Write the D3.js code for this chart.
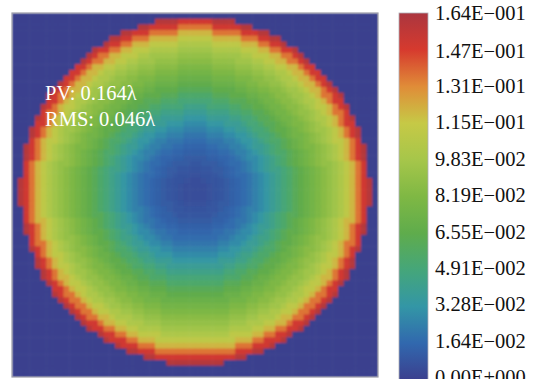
<!DOCTYPE html>
<html><head><meta charset="utf-8">
<script src="https://cdn.jsdelivr.net/npm/d3@7"></script>
<style>html,body{margin:0;padding:0;background:#fff;overflow:hidden}</style>
</head><body>
<svg id="c" width="548" height="379"></svg>
<script>
// Radial profile of the surface error (waves), one value per ring of grid cells, centre outwards
const ringValues = [0.006,0.006,0.007,0.008,0.009,0.011,0.013,0.015,0.018,0.021,0.025,0.029,0.034,0.039,0.044,0.050,0.055,0.061,0.066,0.071,0.076,0.081,0.086,0.091,0.096,0.102,0.110,0.120,0.136,0.150,0.160];
// Colour bar tick values and labels
const tickValues = [0,0.0164,0.0328,0.0491,0.0655,0.0819,0.0983,0.115,0.131,0.147,0.164];
const tickLabels = ["0.00E+000","1.64E\u2212002","3.28E\u2212002","4.91E\u2212002","6.55E\u2212002","8.19E\u2212002","9.83E\u2212002","1.15E\u2212001","1.31E\u2212001","1.47E\u2212001","1.64E\u2212001"];
// Colour map stops (fraction of max value)
const stopFractions = [0,0.1,0.2,0.3,0.4,0.5,0.6,0.7,0.8,0.9,1.0];
const stopColors = ["#3b3f8e","#3168ae","#3396a6","#45a67a","#5fac4c","#7fb844","#a6c64a","#c6c946","#e08c38","#d63a2e","#ab363f"];
const annotations = ["PV: 0.164\u03bb","RMS: 0.046\u03bb"];

const N = 64, vmax = 0.164;
const svg = d3.select("#c");
const plot = {x0:12, x1:378, y0:13, y1:377};
const xs = d3.scaleBand().domain(d3.range(N)).range([plot.x0, plot.x1]).padding(0);
const ys = d3.scaleBand().domain(d3.range(N)).range([plot.y0, plot.y1]).padding(0);
const color = d3.scaleLinear().domain(stopFractions.map(f => f*vmax)).range(stopColors).clamp(true);

const defs = svg.append("defs");
defs.append("clipPath").attr("id","pc").append("rect")
  .attr("x", plot.x0).attr("y", plot.y0).attr("width", plot.x1-plot.x0).attr("height", plot.y1-plot.y0);
defs.append("filter").attr("id","soft").attr("x",-0.02).attr("y",-0.02).attr("width",1.04).attr("height",1.04)
  .append("feGaussianBlur").attr("stdDeviation",0.9);

// centre of the aperture in cell units and its radius
const cc = 32.0, cr = 31.3, R = ringValues.length - 0.4;
const cells = [];
for (let r = 0; r < N; r++) for (let c = 0; c < N; c++) {
  const d = Math.hypot(c + 0.5 - cc, r + 0.5 - cr);
  const v = d < R ? ringValues[Math.min(ringValues.length-1, Math.floor(d))] : 0;
  cells.push({r, c, v});
}
svg.append("g").attr("clip-path","url(#pc)").append("g").attr("filter","url(#soft)")
  .selectAll("rect").data(cells).join("rect")
  .attr("x", d => xs(d.c)).attr("y", d => ys(d.r))
  .attr("width", xs.bandwidth()+0.6).attr("height", ys.bandwidth()+0.6)
  .attr("fill", d => color(d.v));
svg.append("rect").attr("x", plot.x0).attr("y", plot.y0)
  .attr("width", plot.x1-plot.x0).attr("height", plot.y1-plot.y0)
  .attr("fill","none").attr("stroke","#9a9aa6").attr("stroke-width",1.2);

// annotations
svg.append("g").selectAll("text").data(annotations).join("text")
  .attr("x", 45).attr("y", (d,i) => 100 + i*25.5)
  .attr("fill","#fff").attr("font-family","'Liberation Serif','Times New Roman',serif")
  .attr("font-size", 20.5).text(d => d);

// colour bar
const cy = d3.scaleLinear().domain([0, vmax]).range([377, 13]);
const grad = defs.append("linearGradient").attr("id","cb").attr("x1",0).attr("y1",1).attr("x2",0).attr("y2",0);
grad.selectAll("stop").data(stopFractions).join("stop")
  .attr("offset", d => d).attr("stop-color", (d,i) => stopColors[i]);
svg.append("rect").attr("x",399).attr("y",cy(vmax)).attr("width",29).attr("height",cy(0)-cy(vmax)+3)
  .attr("fill","url(#cb)").attr("stroke","#b0b0b8").attr("stroke-width",0.8);

svg.append("g").selectAll("text").data(tickValues).join("text")
  .attr("x", 435).attr("y", d => cy(d) + 7)
  .attr("fill","#111").attr("font-family","'Liberation Serif','Times New Roman',serif")
  .attr("font-size", 20.5).text((d,i) => tickLabels[i]);
</script>
</body></html>
